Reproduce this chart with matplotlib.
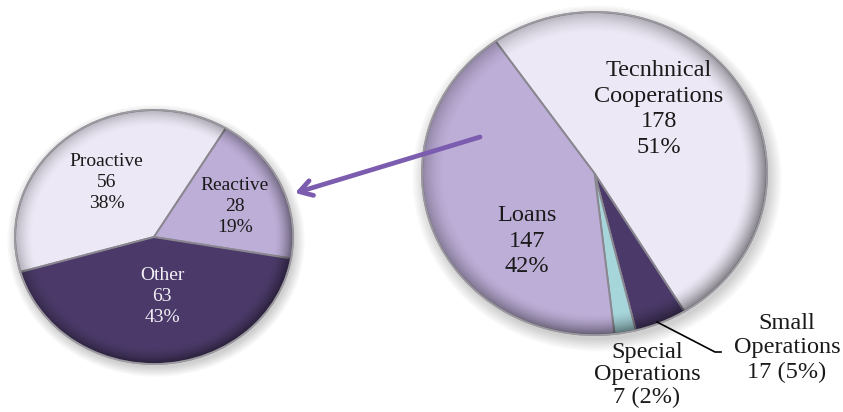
import numpy as np
import matplotlib
matplotlib.use('Agg')
import matplotlib.pyplot as plt
from matplotlib.patches import Ellipse, Circle

plt.rcParams['font.family'] = ['Liberation Serif', 'DejaVu Serif']

# data
left_labels = ['Proactive', 'Reactive', 'Other']
left_values = [56, 28, 63]
right_labels = ['Tecnhnical\nCooperations', 'Small\nOperations', 'Special\nOperations', 'Loans']
right_values = [178, 17, 7, 147]

light = '#ece8f5'
mid = '#bdaed7'
dark = '#4b3a69'
cyan = '#a6d5da'
left_colors = [light, mid, dark]
right_colors = [light, dark, cyan, mid]

W, H = 843, 412
LIM = 1.12
fig = plt.figure(figsize=(W / 100, H / 100), dpi=100)


def pie_axes(cx, cy, rx, ry):
    # cx, cy, rx, ry in pixels (y from top)
    return fig.add_axes([(cx - rx * LIM) / W, (H - cy - ry * LIM) / H,
                         2 * rx * LIM / W, 2 * ry * LIM / H])


def draw_pie(ax, values, colors, start):
    # soft drop shadow
    for k in range(8):
        ax.add_patch(Ellipse((0.015, -0.03), 2.0 + 0.02 * k, 2.0 + 0.02 * k,
                             facecolor='#000000', alpha=0.025, lw=0, zorder=0))
    wedges, _ = ax.pie(values, colors=colors, startangle=start, counterclock=False,
                       radius=1, wedgeprops=dict(edgecolor='#8a8790', linewidth=1.4))
    for w in wedges:
        w.set_zorder(1)
    ax.set_aspect('auto')
    ax.set_xlim(-LIM, LIM)
    ax.set_ylim(-LIM, LIM)
    # darker bevel towards the rim
    n = 300
    g = np.linspace(-1, 1, n)
    xx, yy = np.meshgrid(g, g)
    r = np.sqrt(xx ** 2 + yy ** 2)
    shade = np.zeros((n, n, 4))
    a = np.clip((r - 0.87) / 0.13, 0, 1) ** 1.6 * 0.45
    a *= 0.75 + 0.25 * np.clip(xx - yy, -1, 1)
    shade[..., 3] = np.clip(a, 0, 1)
    im = ax.imshow(shade, extent=(-1, 1, -1, 1), origin='lower', zorder=2,
                   interpolation='bilinear', aspect='auto')
    im.set_clip_path(Circle((0, 0), 1, transform=ax.transData))
    ax.add_patch(Circle((0, 0), 1, fill=False, edgecolor='#9d9aa2', lw=1.2, zorder=3))


# left pie
axl = pie_axes(154, 237, 139, 127)
draw_pie(axl, left_values, left_colors, 196)
left_pos = [(-0.34, 0.43), (0.58, 0.24), (0.06, -0.47)]
tot = sum(left_values)
for lab, v, (x, y), c in zip(left_labels, left_values, left_pos, left_colors):
    axl.text(x, y, f'{lab}\n{v}\n{round(100 * v / tot)}%', ha='center', va='center',
             fontsize=14, linespacing=1.32, zorder=5,
             color='#f2f0f6' if c == dark else '#1a1a1a')

# right pie
axr = pie_axes(594.5, 173.5, 172.5, 161.5)
draw_pie(axr, right_values, right_colors, 125)
tot = sum(right_values)
inner_pos = {0: (0.374, 0.40), 3: (-0.39, -0.42)}
for i, (x, y) in inner_pos.items():
    v = right_values[i]
    axr.text(x, y, f'{right_labels[i]}\n{v}\n{round(100 * v / tot)}%', ha='center',
             va='center', fontsize=17.5, linespacing=1.28, zorder=5, color='#1a1a1a')

# overlay in pixel coordinates
ov = fig.add_axes([0, 0, 1, 1], zorder=10)
ov.set_xlim(0, W)
ov.set_ylim(H, 0)
ov.axis('off')
ov.patch.set_alpha(0)

outer_pos = {1: (787, 348), 2: (647, 375)}
outer_sp = {1: 1.2, 2: 1.1}
for i, (x, y) in outer_pos.items():
    v = right_values[i]
    ov.text(x, y, f'{right_labels[i]}\n{v} ({round(100 * v / tot)}%)', ha='center',
            va='center', fontsize=17.5, linespacing=outer_sp[i], color='#1a1a1a')
ov.plot([657, 715, 721], [322, 352, 352], color='black', lw=1.2)

ov.annotate('', xy=(295, 193), xytext=(480, 137),
            arrowprops=dict(arrowstyle='->,head_length=0.9,head_width=0.55',
                            color='#7b5cae', lw=3.4, shrinkA=0, shrinkB=0))

fig.savefig('out.png', dpi=100)
